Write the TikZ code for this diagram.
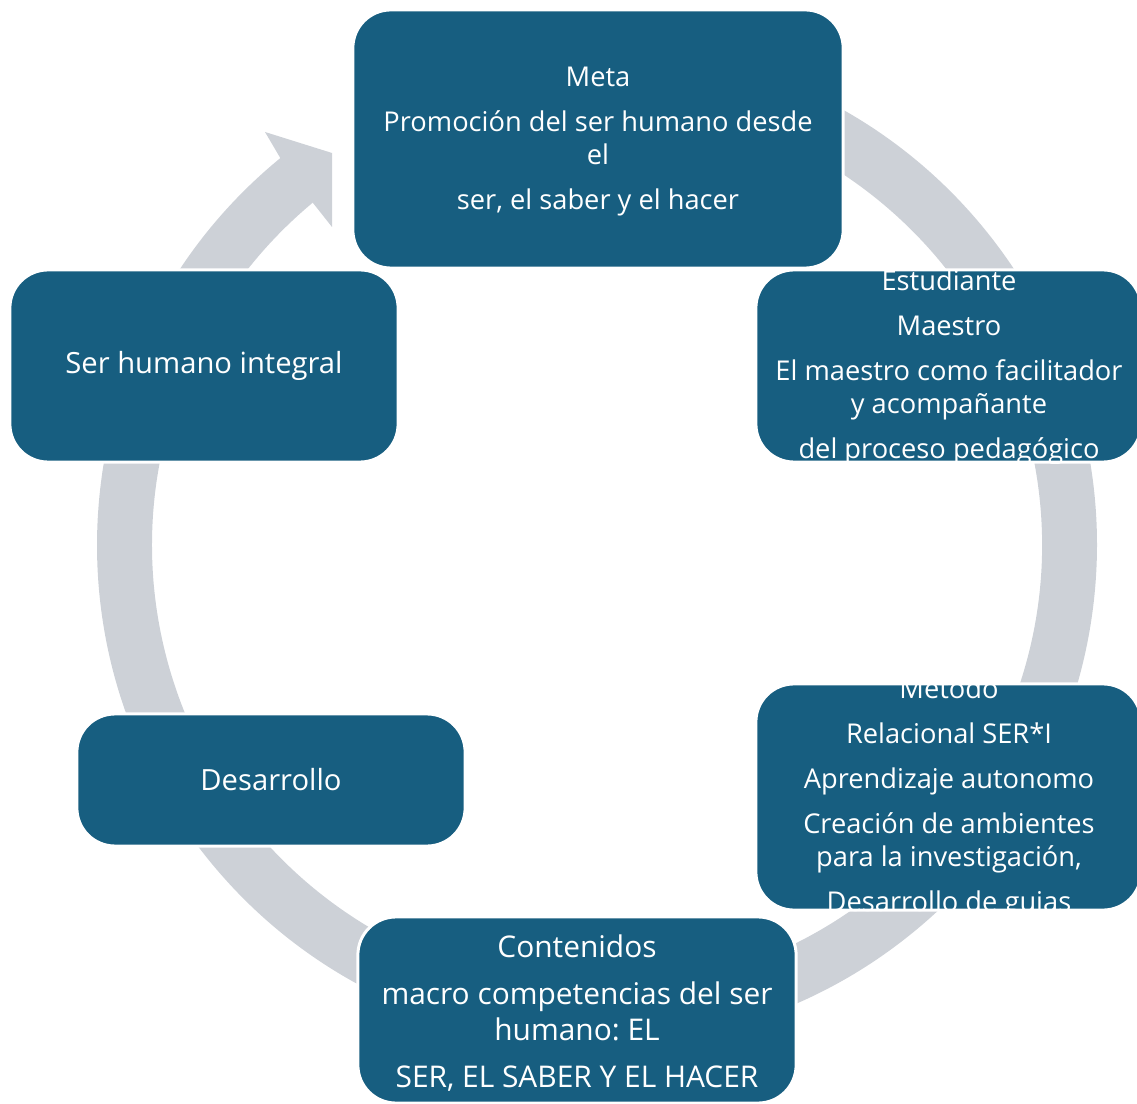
\documentclass[tikz,border=0pt]{standalone}
\usepackage{fontspec}
\setmainfont{Open Sans}
\frenchspacing
\definecolor{boxblue}{RGB}{23,94,128}
\definecolor{ringgray}{RGB}{205,209,215}
\tikzset{
  box/.style={fill=boxblue, draw=white, line width=0.85pt, rounded corners=0.38cm, inner sep=0pt},
  txt/.style={text=white, align=center, inner sep=0pt, font=\fontsize{7.75pt}{9.39pt}\selectfont},
  bigtxt/.style={txt, font=\fontsize{8.3pt}{9.6pt}\selectfont},
  contxt/.style={txt, font=\fontsize{8.5pt}{10.24pt}\selectfont},
}
\begin{document}
\begin{tikzpicture}[x=0.01cm,y=-0.01cm]
\useasboundingbox (0,0) rectangle (1137,1104);
% ring with arrow
\begin{scope}[shift={(597,545)}]
\fill[ringgray] (230.7:500) arc[start angle=230.7, end angle=-105, radius=500]
  -- (-105:445) arc[start angle=-105, end angle=230.7, radius=445]
  -- (-284,-342) -- (-265,-318) -- (-265,-392) -- (-332,-413) -- cycle;
\end{scope}
% boxes
\node[box, minimum width=4.9cm, minimum height=2.58cm] (meta) at (598,139) {};
\node[box, minimum width=3.85cm, minimum height=1.92cm] (est) at (948.5,366) {};
\node[box, minimum width=3.88cm, minimum height=1.92cm] (ser) at (204,366) {};
\node[box, minimum width=3.85cm, minimum height=2.26cm] (met) at (948.5,797) {};
\node[box, minimum width=3.88cm, minimum height=1.32cm] (des) at (271,780) {};
\node[box, minimum width=4.38cm, minimum height=1.86cm] (con) at (577,1010) {};
% texts
\node[txt] (tmeta) at (598,142) {Meta\\[0.12cm]Promoción del ser humano desde\\el\\[0.12cm]ser, el saber y el hacer};
\node[bigtxt] (tser) at (204,366) {Ser humano integral};
\node[bigtxt] (tdes) at (271,780) {Desarrollo};
\begin{scope}
\clip[rounded corners=0.38cm] (est.south west) rectangle (est.north east);
\node[txt] (test) at (949,367) {Estudiante\\[0.12cm]Maestro\\[0.12cm]El maestro como facilitador\\y acompañante\\[0.12cm]del proceso pedagógico};
\end{scope}
\begin{scope}
\clip[rounded corners=0.38cm] (met.south west) rectangle (met.north east);
\node[txt] (tmet) at (949,798) {Metodo\\[0.12cm]Relacional SER*I\\[0.12cm]Aprendizaje autonomo\\[0.12cm]Creación de ambientes\\para la investigación,\\[0.12cm]Desarrollo de guias};
\end{scope}
\begin{scope}
\clip[rounded corners=0.38cm] (con.south west) rectangle (con.north east);
\node[contxt] (tcon) at (577,1013) {Contenidos\\[0.11cm]macro competencias del ser\\humano: EL\\[0.11cm]SER, EL SABER Y EL HACER};
\end{scope}
\end{tikzpicture}
\end{document}
